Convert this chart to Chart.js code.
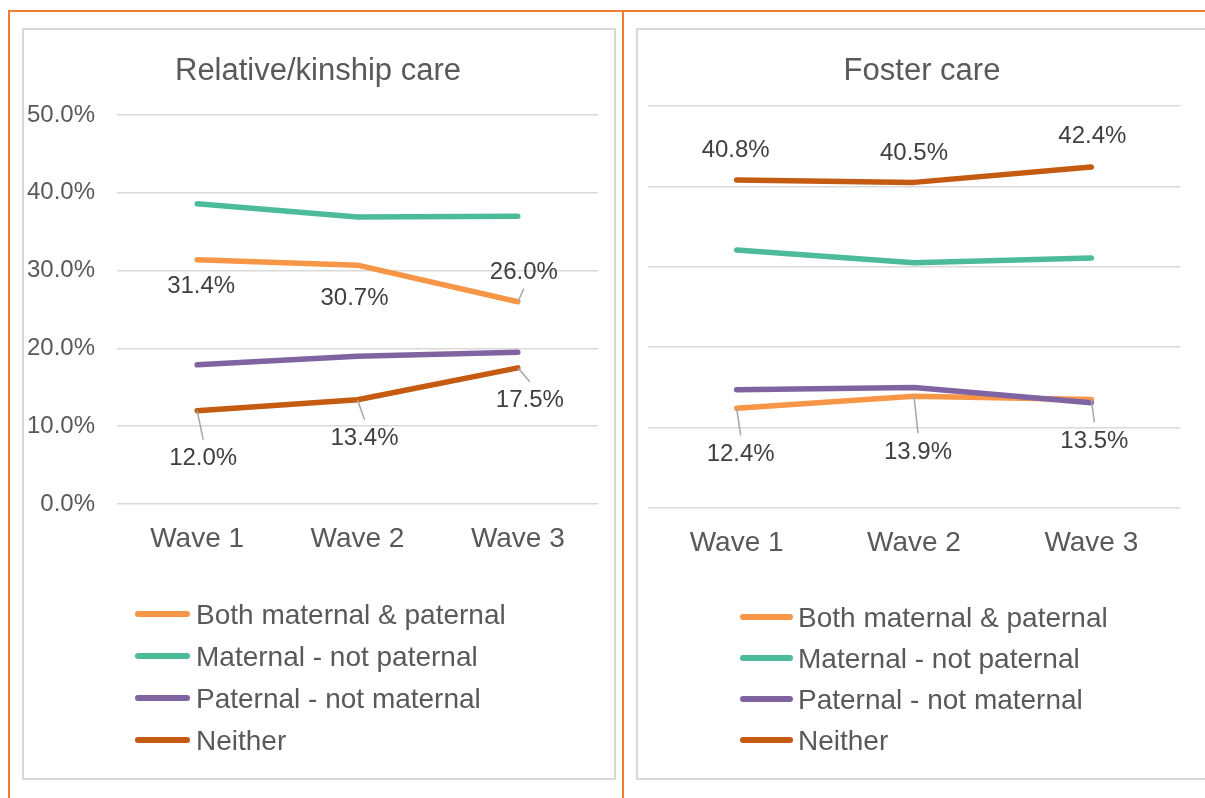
<!DOCTYPE html>
<html><head><meta charset="utf-8">
<script src="https://cdn.jsdelivr.net/npm/chart.js@4.4.0/dist/chart.umd.min.js"></script>
<style>
html,body{margin:0;padding:0;background:#fff;width:1205px;height:798px;overflow:hidden;position:relative;font-family:"Liberation Sans",Arial,sans-serif;}
.frame{position:absolute;background:#ED7D31;}
.panel{position:absolute;border:2px solid #D9D9D9;box-sizing:border-box;}
.box{position:absolute;}
</style></head><body>
<div class="frame" style="left:8px;top:10px;width:1197px;height:2px"></div>
<div class="frame" style="left:8px;top:10px;width:2px;height:788px"></div>
<div class="frame" style="left:622px;top:10px;width:2px;height:788px"></div>
<div class="panel" style="left:22px;top:28px;width:594px;height:752px"></div>
<div class="panel" style="left:636px;top:28px;width:620px;height:752px"></div>
<div class="box" style="left:22px;top:28px;width:593px;height:751px"><canvas id="c1"></canvas></div>
<div class="box" style="left:637px;top:28px;width:570px;height:751px"><canvas id="c2"></canvas></div>
<script>
// ---- data ----
const waves = ['Wave 1', 'Wave 2', 'Wave 3'];
const seriesNames = ['Both maternal & paternal', 'Maternal - not paternal', 'Paternal - not maternal', 'Neither'];
const seriesColors = ['#F79646', '#4CBB9A', '#8064A2', '#C55A11'];
const kinTitle = 'Relative/kinship care';
const kinBoth = [31.4, 30.7, 26.0];
const kinMaternal = [38.6, 36.9, 37.0];
const kinPaternal = [17.9, 19.0, 19.5];
const kinNeither = [12.0, 13.4, 17.5];
const fosterTitle = 'Foster care';
const fosterBoth = [12.4, 13.9, 13.5];
const fosterMaternal = [32.1, 30.5, 31.1];
const fosterPaternal = [14.7, 15.0, 13.1];
const fosterNeither = [40.8, 40.5, 42.4];
const yMin = 0, yMax = 50, yStep = 10;

const FONT = '"Liberation Sans", Arial, sans-serif';

const deco = {
  id: 'panelDeco',
  afterDraw(chart, args, o) {
    const ctx = chart.ctx; ctx.save();
    ctx.fillStyle = '#595959';
    ctx.font = '31px ' + FONT;
    ctx.textAlign = 'center'; ctx.textBaseline = 'middle';
    ctx.fillText(o.title, o.titleX, o.titleY);
    ctx.font = '28px ' + FONT; ctx.textAlign = 'left';
    chart.data.datasets.forEach((ds, k) => {
      const y = o.legendY + k * o.legendStep;
      ctx.strokeStyle = ds.borderColor; ctx.lineWidth = 6; ctx.lineCap = 'round';
      ctx.beginPath(); ctx.moveTo(o.legendX + 3, y); ctx.lineTo(o.legendX + o.lineLen - 3, y); ctx.stroke();
      ctx.fillStyle = '#595959';
      ctx.fillText(ds.label, o.legendX + o.lineLen + o.textGap, y + 2);
    });
    ctx.restore();
  }
};

const ptLabels = {
  id: 'ptLabels',
  afterDatasetsDraw(chart, args, o) {
    const ctx = chart.ctx; ctx.save();
    ctx.font = '24px ' + FONT; ctx.textAlign = 'center'; ctx.textBaseline = 'middle';
    o.items.forEach(it => {
      const el = chart.getDatasetMeta(it.ds).data[it.i];
      const v = chart.data.datasets[it.ds].data[it.i];
      const lx = el.x + it.dx, ly = el.y + it.dy;
      if (it.leader) {
        const endY = it.dy > 0 ? ly - 18 : ly + 17;
        ctx.strokeStyle = '#A6A6A6'; ctx.lineWidth = 1.5; ctx.lineCap = 'butt';
        ctx.beginPath(); ctx.moveTo(el.x, el.y); ctx.lineTo(lx, endY); ctx.stroke();
      }
      ctx.fillStyle = '#404040';
      ctx.fillText(v.toFixed(1) + '%', lx, ly + 1);
    });
    ctx.restore();
  }
};

function makeDatasets(arrs) {
  return arrs.map((d, k) => ({
    label: seriesNames[k], data: d, borderColor: seriesColors[k], backgroundColor: seriesColors[k],
    borderWidth: 5.5, borderCapStyle: 'round', borderJoinStyle: 'round', pointRadius: 0,
    pointHoverRadius: 0, tension: 0, fill: false, order: 4 - k, clip: false
  }));
}

function makeChart(id, arrs, showY, yWidth, pad, deco_o, labels_o) {
  return new Chart(document.getElementById(id), {
    type: 'line',
    data: { labels: waves, datasets: makeDatasets(arrs) },
    plugins: [deco, ptLabels],
    options: {
      responsive: true, maintainAspectRatio: false, animation: false,
      layout: { padding: pad },
      plugins: { legend: { display: false }, tooltip: { enabled: false }, title: { display: false },
        panelDeco: deco_o, ptLabels: labels_o },
      scales: {
        x: {
          offset: true,
          grid: { display: false, drawTicks: false, offset: true }, border: { display: false },
          ticks: { color: '#595959', font: { family: FONT, size: 28 }, padding: 18, maxRotation: 0 },
          afterFit: s => { s.height = 60; }
        },
        y: {
          min: yMin, max: yMax,
          grid: { color: '#D9D9D9', lineWidth: 1.5, drawTicks: false }, border: { display: false },
          ticks: { display: showY, stepSize: yStep, color: '#595959', font: { family: FONT, size: 24 }, padding: 22,
            callback: v => v.toFixed(1) + '%' },
          afterFit: s => { s.width = yWidth; }
        }
      }
    }
  });
}

makeChart('c1', [kinBoth, kinMaternal, kinPaternal, kinNeither], true, 95,
  { left: 0, right: 17, top: 87, bottom: 215 },
  { title: kinTitle, titleX: 296, titleY: 43, legendX: 113, legendY: 586, legendStep: 42, lineLen: 55, textGap: 6 },
  { items: [
    { ds: 0, i: 0, dx: 4, dy: 26 }, { ds: 0, i: 1, dx: -3, dy: 32 }, { ds: 0, i: 2, dx: 6, dy: -30, leader: true },
    { ds: 3, i: 0, dx: 6, dy: 47, leader: true }, { ds: 3, i: 1, dx: 7, dy: 38, leader: true }, { ds: 3, i: 2, dx: 12, dy: 32, leader: true }
  ] });

makeChart('c2', [fosterBoth, fosterMaternal, fosterPaternal, fosterNeither], false, 11,
  { left: 0, right: 27, top: 78, bottom: 211 },
  { title: fosterTitle, titleX: 285, titleY: 43, legendX: 103, legendY: 589, legendStep: 41, lineLen: 53, textGap: 5 },
  { items: [
    { ds: 3, i: 0, dx: -1, dy: -31 }, { ds: 3, i: 1, dx: 0, dy: -30 }, { ds: 3, i: 2, dx: 1, dy: -32 },
    { ds: 0, i: 0, dx: 4, dy: 45, leader: true }, { ds: 0, i: 1, dx: 4, dy: 55, leader: true }, { ds: 0, i: 2, dx: 3, dy: 41, leader: true }
  ] });
</script>
</body></html>
